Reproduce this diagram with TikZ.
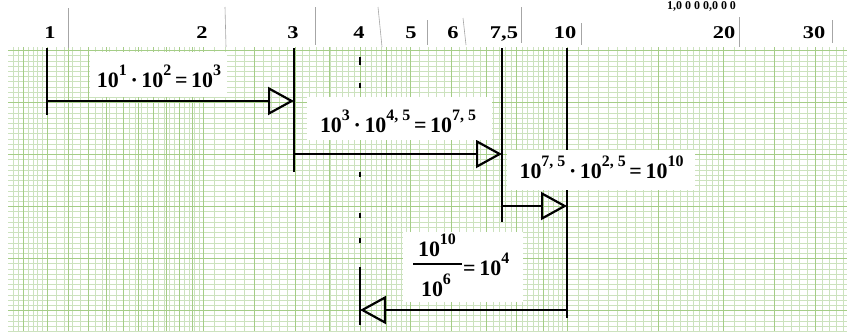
\documentclass[tikz,border=0pt]{standalone}
\usepackage{fontspec}
\setmainfont{Liberation Serif}
\usetikzlibrary{arrows.meta}
\definecolor{gminor}{RGB}{204,226,190}
\definecolor{gmid}{RGB}{165,205,135}
\newcommand\pw[1]{\raisebox{12bp}{\fontsize{16}{16}\selectfont #1}}
\newcommand\eqfont{\fontsize{22}{24}\selectfont\bfseries}
\newcommand\wide[1]{\scalebox{1.25}[1]{#1}}
\begin{document}
\begin{tikzpicture}[x=1bp,y=-1bp,
  blk/.style={line width=2.2bp,black},
  arr/.style={blk,-{Triangle[open,length=26bp,width=28bp]}},
  sepl/.style={gray!70,line width=0.6bp},
  lbl/.style={font=\fontsize{18}{20}\selectfont\bfseries,anchor=base,inner sep=0pt},
  eqbox/.style={fill=white,draw=none,inner sep=0pt},
  eqtxt/.style={font=\eqfont,anchor=base,inner sep=0pt},
  gmin/.style={gminor,line width=0.5bp},
  gmed/.style={gmid,line width=0.8bp}]
\useasboundingbox (0,0) rectangle (847,331);
\fill[white] (0,0) rectangle (847,331);
% ---------- semi-log grid ----------
\begin{scope}
\clip (8,47) rectangle (847,331);
\foreach \k in {0,...,54} \draw[gmin] (8,{50.5+5.2*\k}) -- (847,{50.5+5.2*\k});
\foreach \i in {42,...,50} \draw[gmin] ({47+520*log10(\i/50)},47) -- ++(0,284);
\foreach \i in {25,...,50} \draw[gmin] ({47+520*log10(\i/25)},47) -- ++(0,284);
\foreach \i in {20,...,50} \draw[gmin] ({47+520*log10(\i/10)},47) -- ++(0,284);
\foreach \i in {25,...,50} \draw[gmin] ({47+520*log10(\i/5)},47) -- ++(0,284);
\foreach \i in {20,...,40} \draw[gmin] ({47+520*log10(\i/2)},47) -- ++(0,284);
\foreach \i in {20,...,36} \draw[gmin] ({47+520*log10(\i)},47) -- ++(0,284);
\foreach \k in {0,...,5} \draw[gmed] (8,{50.5+52*\k}) -- (847,{50.5+52*\k});
\foreach \i in {9,...,20} \draw[gmed] ({47+520*log10(\i/10)},47) -- ++(0,284);
\foreach \i in {4,...,10} \draw[gmed] ({47+520*log10(\i/2)},47) -- ++(0,284);
\foreach \i in {5,...,10} \draw[gmed] ({47+520*log10(\i)},47) -- ++(0,284);
\foreach \i in {2,...,7} \draw[gmed] ({47+520*log10(5*\i)},47) -- ++(0,284);
\end{scope}
% ---------- label strip ----------
\draw[sepl] (68,8) -- (68,48);
\draw[sepl] (225,7) -- (226,47);
\draw[sepl] (315,7) -- (315,45);
\draw[sepl] (378,7) -- (382,47);
\draw[sepl] (427,20) -- (427,45);
\draw[sepl] (463,18) -- (466,45);
\draw[sepl] (521,7) -- (521,43);
\draw[sepl] (581,23) -- (581,45);
\draw[sepl] (739,17) -- (739,47);
\draw[sepl] (832,20) -- (832,43);
\node[lbl] (l1) at (50,38) {\wide{1}};
\node[lbl] (l2) at (202,38) {\wide{2}};
\node[lbl] (l3) at (293,38) {\wide{3}};
\node[lbl] (l4) at (359,38) {\wide{4}};
\node[lbl] (l5) at (411,38) {\wide{5}};
\node[lbl] (l6) at (453,38) {\wide{6}};
\node[lbl] (l75) at (504,38) {\wide{7,5}};
\node[lbl] (l10) at (565,38) {\wide{10}};
\node[lbl] (l20) at (724,38) {\wide{20}};
\node[lbl] (l30) at (814,38) {\wide{30}};
\node[lbl,font=\fontsize{12}{12}\selectfont\bfseries,anchor=base west] (top) at (667,9.5) {1,0 0 0 0,0 0 0};
% ---------- coordinates ----------
\coordinate (v1t) at (47,48);   \coordinate (v1b) at (47,115);
\coordinate (v3t) at (294,48);  \coordinate (v3b) at (294,172);
\coordinate (v7t) at (502,48);  \coordinate (v7b) at (502,222);
\coordinate (vat) at (567,48);  \coordinate (vab) at (567,318);
\coordinate (v4t) at (360,267); \coordinate (v4b) at (360,325);
\coordinate (h1s) at (47,101);  \coordinate (h1e) at (294,101);
\coordinate (h2s) at (294,154); \coordinate (h2e) at (502,154);
\coordinate (h3s) at (502,206); \coordinate (h3e) at (567,206);
\coordinate (h4s) at (567,310); \coordinate (h4e) at (360,310);
% ---------- lines ----------
\draw[blk] (v1t) -- (v1b);
\draw[blk] (v3t) -- (v3b);
\draw[blk] (v7t) -- (v7b);
\draw[blk] (vat) -- (vab);
\draw[blk] (v4t) -- (v4b);
\foreach \a/\b in {57/65,83/88,172/177,213/218,238/243}
  \draw[blk,line width=1.8bp] (360,\a) -- (360,\b);
\draw[arr] (h1s) -- (h1e);
\draw[arr] (h2s) -- (h2e);
\draw[arr] (h3s) -- (h3e);
\draw[arr] (h4s) -- (h4e);
% ---------- equation boxes ----------
\node[eqbox,minimum width=137bp,minimum height=45bp] (b1) at (158.5,74.5) {};
\node[eqbox,minimum width=185bp,minimum height=43bp] (b2) at (399.5,118.5) {};
\node[eqbox,minimum width=188bp,minimum height=40bp] (b3) at (601,170) {};
\node[eqbox,minimum width=120bp,minimum height=70bp] (b4) at (463,267) {};
\node[eqtxt] (e1) at (159,87) {10\pw{1}\,·\,10\pw{2}\,=\,10\pw{3}};
\node[eqtxt] (e2) at (398,132.7) {10\pw{3}\,·\,10\pw{4, 5}\,=\,10\pw{7, 5}};
\node[eqtxt] (e3) at (601.5,178.3) {10\pw{7, 5}\,·\,10\pw{2, 5}\,=\,10\pw{10}};
\node[eqtxt] (n4) at (437,256.7) {10\pw{10}};
\node[eqtxt] (d4) at (436,296.7) {10\pw{6}};
\node[eqtxt,anchor=base west] (r4) at (463,275) {=\,10\pw{4}};
\draw[line width=1.6bp] (413,264) -- (462,264);
\end{tikzpicture}
\end{document}
